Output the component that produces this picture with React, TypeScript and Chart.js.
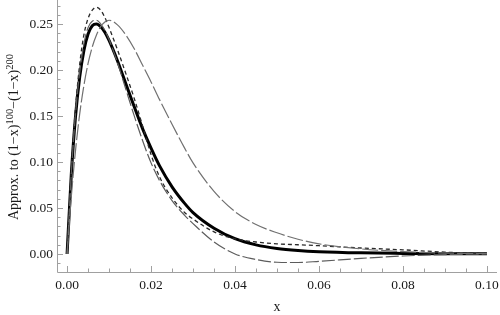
import React, { useEffect, useRef } from 'react';
import { Chart, registerables } from 'chart.js';

Chart.register(...registerables);

// x positions where the curves were read
const X = [0, 0.001, 0.002, 0.003, 0.004, 0.005, 0.006, 0.007, 0.008, 0.009, 0.01, 0.012, 0.014, 0.016, 0.018, 0.02, 0.022, 0.025, 0.028, 0.03, 0.035, 0.04, 0.045, 0.05, 0.055, 0.06, 0.07, 0.08, 0.09, 0.1];

// thick black: (1-x)^100 - (1-x)^200
const EXACT = [0, 0.086, 0.149, 0.192, 0.221, 0.239, 0.248, 0.25, 0.247, 0.241, 0.232, 0.21, 0.185, 0.16, 0.136, 0.115, 0.096, 0.073, 0.055, 0.045, 0.028, 0.0166, 0.0099, 0.006, 0.0038, 0.0025, 0.0012, 0.0006, 0.0002, 0.0001];

// dark dashed approximation (highest peak)
const APPROX_DASHED = [0, 0.09, 0.158, 0.206, 0.238, 0.256, 0.265, 0.268, 0.265, 0.257, 0.246, 0.222, 0.196, 0.169, 0.139, 0.108, 0.084, 0.061, 0.045, 0.038, 0.024, 0.0165, 0.013, 0.011, 0.01, 0.009, 0.0065, 0.0045, 0.002, 0.0005];

// gray approximation that dips below zero
const APPROX_GRAY = [0, 0.087, 0.152, 0.197, 0.228, 0.246, 0.253, 0.254, 0.25, 0.243, 0.233, 0.208, 0.179, 0.15, 0.123, 0.099, 0.08, 0.058, 0.042, 0.033, 0.013, 0, -0.006, -0.009, -0.0093, -0.008, -0.0048, -0.0022, -0.0007, 0];

// gray long-dash approximation (wide peak)
const APPROX_WIDE = [0, 0.062, 0.112, 0.152, 0.183, 0.207, 0.225, 0.238, 0.247, 0.252, 0.254, 0.249, 0.238, 0.223, 0.205, 0.187, 0.168, 0.141, 0.115, 0.099, 0.068, 0.046, 0.032, 0.023, 0.016, 0.011, 0.0055, 0.0025, 0.001, 0.0003];

const X_TICKS = [0, 0.02, 0.04, 0.06, 0.08, 0.1];
const Y_TICKS = [0, 0.05, 0.1, 0.15, 0.2, 0.25];
const X_LABEL = 'x';
const Y_LABEL_PARTS = [
  { t: 'Approx. to (1\u2212x)', sup: false },
  { t: '100', sup: true },
  { t: '\u2212(1\u2212x)', sup: false },
  { t: '200', sup: true },
];

const FONT_FAMILY = '"Liberation Serif", "Times New Roman", serif';
const AXIS_COLOR = '#a0a0a0';
const TEXT_COLOR = '#1a1a1a';

const axesPlugin = {
  id: 'mmaAxes',
  beforeDatasetsDraw(chart: any) {
    const { ctx, chartArea } = chart;
    const xs = chart.scales.x;
    const ys = chart.scales.y;
    ctx.save();
    ctx.strokeStyle = AXIS_COLOR;
    ctx.lineWidth = 1;
    ctx.beginPath();
    ctx.moveTo(chartArea.left + 0.5, chartArea.top);
    ctx.lineTo(chartArea.left + 0.5, chartArea.bottom + 0.5);
    ctx.lineTo(chartArea.right, chartArea.bottom + 0.5);
    ctx.stroke();
    for (let k = 0; k <= 20; k++) {
      const v = k * 0.005;
      const major = k % 4 === 0;
      const px = Math.round(xs.getPixelForValue(v)) + 0.5;
      ctx.beginPath();
      ctx.moveTo(px, chartArea.bottom);
      ctx.lineTo(px, chartArea.bottom - (major ? 6 : 3.5));
      ctx.stroke();
    }
    for (let k = -1; k <= 27; k++) {
      const v = k * 0.01;
      const major = k % 5 === 0;
      const py = Math.round(ys.getPixelForValue(v)) + 0.5;
      ctx.beginPath();
      ctx.moveTo(chartArea.left, py);
      ctx.lineTo(chartArea.left + (major ? 6 : 3.5), py);
      ctx.stroke();
    }
    ctx.fillStyle = TEXT_COLOR;
    ctx.font = `13.5px ${FONT_FAMILY}`;
    ctx.textAlign = 'center';
    ctx.textBaseline = 'alphabetic';
    for (const v of X_TICKS) {
      ctx.fillText(v.toFixed(2), xs.getPixelForValue(v), chartArea.bottom + 16.5);
    }
    ctx.textAlign = 'right';
    ctx.textBaseline = 'middle';
    for (const v of Y_TICKS) {
      ctx.fillText(v.toFixed(2), chartArea.left - 4, ys.getPixelForValue(v) + 0.5);
    }
    ctx.restore();
  },
  afterDraw(chart: any) {
    const { ctx, chartArea } = chart;
    ctx.save();
    ctx.fillStyle = TEXT_COLOR;
    ctx.font = `14px ${FONT_FAMILY}`;
    ctx.textAlign = 'center';
    ctx.textBaseline = 'alphabetic';
    ctx.fillText(X_LABEL, (chartArea.left + chartArea.right) / 2, 311);
    const mainFont = `14px ${FONT_FAMILY}`;
    const supFont = `10.5px ${FONT_FAMILY}`;
    let total = 0;
    for (const p of Y_LABEL_PARTS) {
      ctx.font = p.sup ? supFont : mainFont;
      total += ctx.measureText(p.t).width;
    }
    ctx.translate(17.5, 137);
    ctx.rotate(-Math.PI / 2);
    ctx.textAlign = 'left';
    ctx.textBaseline = 'alphabetic';
    let pos = -total / 2;
    for (const p of Y_LABEL_PARTS) {
      ctx.font = p.sup ? supFont : mainFont;
      ctx.fillText(p.t, pos, p.sup ? -5 : 0);
      pos += ctx.measureText(p.t).width;
    }
    ctx.restore();
  },
};

function pts(ys: number[]) {
  return X.map((x, i) => ({ x, y: ys[i] }));
}

export default function App() {
  const ref = useRef<HTMLCanvasElement | null>(null);
  useEffect(() => {
    if (!ref.current) return;
    const common = { showLine: true, pointRadius: 0, cubicInterpolationMode: 'monotone' as const, fill: false };
    const chart = new Chart(ref.current, {
      type: 'scatter',
      data: {
        datasets: [
          { ...common, label: 'wide', data: pts(APPROX_WIDE), borderColor: '#707070', borderWidth: 1.2, borderDash: [16, 3] },
          { ...common, label: 'gray', data: pts(APPROX_GRAY), borderColor: '#5c5c5c', borderWidth: 1.2, borderDash: [13, 3] },
          { ...common, label: 'dashed', data: pts(APPROX_DASHED), borderColor: '#2a2a2a', borderWidth: 1.3, borderDash: [4, 3] },
          { ...common, label: 'exact', data: pts(EXACT), borderColor: '#000000', borderWidth: 3 },
        ],
      },
      options: {
        animation: false,
        responsive: false,
        maintainAspectRatio: false,
        layout: { padding: { left: 0, right: 3, top: 0, bottom: 0 } },
        plugins: { legend: { display: false }, tooltip: { enabled: false }, title: { display: false } },
        scales: {
          x: {
            type: 'linear',
            min: -0.0024,
            max: 0.1024,
            afterBuildTicks: (s: any) => { s.ticks = X_TICKS.map((v) => ({ value: v })); },
            afterFit: (s: any) => { s.height = 43; },
            grid: { display: false, drawTicks: false },
            border: { display: false },
            ticks: { display: false },
          },
          y: {
            type: 'linear',
            min: -0.0196,
            max: 0.276,
            afterBuildTicks: (s: any) => { s.ticks = Y_TICKS.map((v) => ({ value: v })); },
            afterFit: (s: any) => { s.width = 57; },
            grid: { display: false, drawTicks: false },
            border: { display: false },
            ticks: { display: false },
          },
        },
      },
      plugins: [axesPlugin],
    });
    return () => chart.destroy();
  }, []);
  return (
    <div style={{ position: 'fixed', left: 0, top: 0, width: 500, height: 315, background: '#fff' }}>
      <canvas ref={ref} width={500} height={315} style={{ display: 'block', width: 500, height: 315 }} />
    </div>
  );
}
